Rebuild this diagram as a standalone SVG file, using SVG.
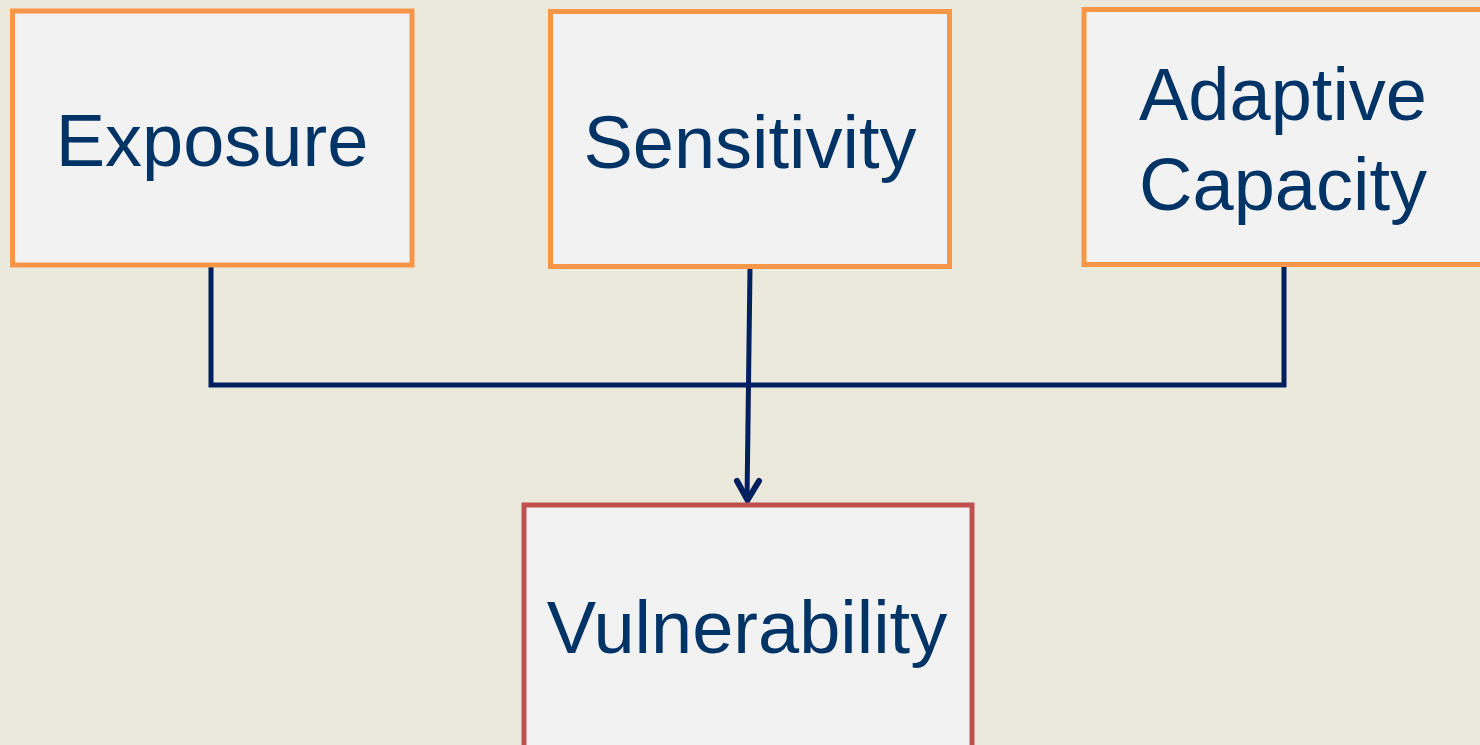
<svg xmlns="http://www.w3.org/2000/svg" width="1480" height="745" viewBox="0 0 1480 745">
<defs>
<style>
.box{fill:#F2F2F2;stroke:#F79646;stroke-width:5}
.red{stroke:#C0504D}
.lbl{font-family:"Liberation Sans",Arial,sans-serif;font-size:74px;fill:#003366;text-anchor:middle}
.con{fill:none;stroke:#001F5F;stroke-width:5;stroke-linecap:butt;stroke-linejoin:miter}
.head{fill:none;stroke:#001F5F;stroke-width:6;stroke-linecap:round;stroke-linejoin:miter}
</style>
</defs>
<rect width="1480" height="745" fill="#EBE8DC"/>
<g id="connectors">
<polyline class="con" points="211,266 211,385 1284,385 1284,266"/>
<line class="con" x1="750" y1="268" x2="747" y2="500"/>
<polyline class="head" points="737,481 747.5,500 759,481"/>
</g>
<g id="exposure">
<rect class="box" x="12.5" y="11" width="399.5" height="254"/>
<text class="lbl" x="212" y="166">Exposure</text>
</g>
<g id="sensitivity">
<rect class="box" x="550.5" y="11.5" width="399" height="255"/>
<text class="lbl" x="750" y="168">Sensitivity</text>
</g>
<g id="adaptive">
<rect class="box" x="1084" y="9.5" width="420" height="255"/>
<text class="lbl" x="1283" y="120">Adaptive</text>
<text class="lbl" x="1283" y="210">Capacity</text>
</g>
<g id="vulnerability">
<rect class="box red" x="524" y="505" width="448" height="260"/>
<text class="lbl" x="747" y="653">Vulnerability</text>
</g>
</svg>
